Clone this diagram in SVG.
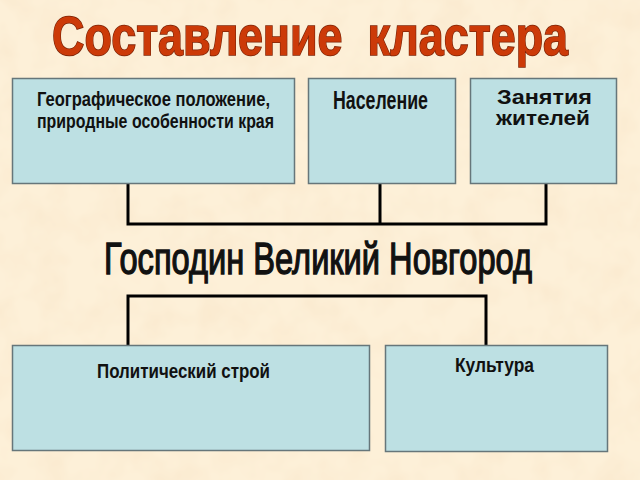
<svg xmlns="http://www.w3.org/2000/svg" width="640" height="480" viewBox="0 0 640 480">
<defs>
<filter id="paper" x="0" y="0" width="100%" height="100%">
<feTurbulence type="fractalNoise" baseFrequency="0.03" numOctaves="3" seed="7"/>
<feColorMatrix type="matrix" values="0 0 0 0 0.95  0 0 0 0 0.8  0 0 0 0 0.6  0 0 0 1.3 -0.5"/>
</filter>
<style>
.box{fill:#bde0e3;stroke:#66767a;stroke-width:1.5}
.conn{fill:none;stroke:#000;stroke-width:3;stroke-linejoin:miter}
.n{font-family:"Liberation Sans",Arial,sans-serif;font-weight:bold;fill:#111}
.b{font-family:"Liberation Sans",Arial,sans-serif;font-weight:bold;fill:#111}
.title{font-family:"Liberation Sans",Arial,sans-serif;font-weight:bold;font-size:56px;fill:#cc3a08;stroke:#7d2508;stroke-width:1.6;paint-order:stroke}
</style>
</defs>
<rect width="640" height="480" fill="#fdf0d8"/>
<rect width="640" height="480" filter="url(#paper)"/>

<text class="title" xml:space="preserve" x="52" y="55" textLength="516" lengthAdjust="spacingAndGlyphs">Составление  кластера</text>

<g id="connectors">
<path class="conn" d="M128 183 V224 H546 V183 M380 183 V224"/>
<path class="conn" d="M128 346 V296 H486 V346"/>
</g>

<g id="geo">
<rect class="box" x="12.5" y="78.5" width="282" height="105"/>
<text class="n" font-size="20" x="37" y="106" textLength="233" lengthAdjust="spacingAndGlyphs">Географическое положение,</text>
<text class="n" font-size="20" x="37" y="128" textLength="237" lengthAdjust="spacingAndGlyphs">природные особенности края</text>
</g>

<g id="population">
<rect class="box" x="308.5" y="78.5" width="147" height="105"/>
<text class="n" font-size="26" x="333" y="109" textLength="95" lengthAdjust="spacingAndGlyphs">Население</text>
</g>

<g id="occupations">
<rect class="box" x="470.5" y="78.5" width="146" height="105"/>
<text class="b" font-size="20" x="497" y="104" textLength="95" lengthAdjust="spacingAndGlyphs">Занятия</text>
<text class="b" font-size="20" x="496" y="125" textLength="94" lengthAdjust="spacingAndGlyphs">жителей</text>
</g>

<g id="center">
<text class="n" font-size="45" x="104" y="274" textLength="428" lengthAdjust="spacingAndGlyphs" style="font-weight:normal;stroke:#111;stroke-width:1.4">Господин Великий Новгород</text>
</g>

<g id="politics">
<rect class="box" x="12.5" y="345.5" width="357" height="105"/>
<text class="n" font-size="21" x="97" y="378" textLength="173" lengthAdjust="spacingAndGlyphs">Политический строй</text>
</g>

<g id="culture">
<rect class="box" x="385.5" y="345.5" width="222" height="106"/>
<text class="n" font-size="21" x="455" y="372" textLength="79" lengthAdjust="spacingAndGlyphs">Культура</text>
</g>
</svg>
